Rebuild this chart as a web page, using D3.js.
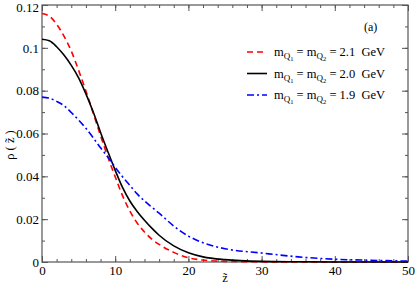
<!DOCTYPE html>
<html>
<head>
<meta charset="utf-8">
<script src="https://cdn.jsdelivr.net/npm/d3@7"></script>
<style>
  body { margin: 0; background: #fff; }
  svg { display: block; }
  svg text { font-family: "Liberation Serif", "Times New Roman", "DejaVu Serif", serif; }
</style>
</head>
<body>
<svg id="chart" width="415" height="285"></svg>
<script>
const zVals = [0, 1, 2, 3, 4, 5, 6, 7, 8, 9, 10, 11, 12, 13, 14, 15, 16, 18, 20, 22, 25, 30, 35, 40, 45, 50];
const rho21 = [0.116, 0.1148, 0.111, 0.1055, 0.0985, 0.0895, 0.0798, 0.0695, 0.059, 0.049, 0.0398, 0.031, 0.0238, 0.0182, 0.014, 0.0107, 0.0082, 0.0045, 0.002, 0.0009, 0.0003, 0.0001, 0, 0, 0, 0];
const rho20 = [0.104, 0.1033, 0.1005, 0.0966, 0.0918, 0.086, 0.0785, 0.070, 0.0605, 0.0515, 0.0428, 0.0348, 0.0285, 0.0236, 0.0195, 0.0158, 0.0125, 0.0075, 0.0043, 0.0024, 0.0011, 0.0003, 0.0001, 0, 0, 0];
const rho19 = [0.077, 0.0765, 0.075, 0.073, 0.0698, 0.0663, 0.0624, 0.058, 0.0533, 0.049, 0.0442, 0.0398, 0.0358, 0.0318, 0.0285, 0.0256, 0.0228, 0.0168, 0.0121, 0.009, 0.0062, 0.0042, 0.0024, 0.0013, 0.0008, 0.0004];
const legendMass = ["2.1", "2.0", "1.9"];
const xTicks = [0, 10, 20, 30, 40, 50];
const yTicks = [0, 0.02, 0.04, 0.06, 0.08, 0.1, 0.12];

const series = [
  { vals: rho21, color: "#ff0000", dash: "6,4" },
  { vals: rho20, color: "#000000", dash: null },
  { vals: rho19, color: "#0000ff", dash: "7,3,2,3" }
];

const svg = d3.select("#chart");
const margin = { top: 5, right: 7, bottom: 23, left: 42 };
const width = 415 - margin.left - margin.right;
const height = 285 - margin.top - margin.bottom;

const x = d3.scaleLinear().domain([0, 50]).range([0, width]);
const y = d3.scaleLinear().domain([0, 0.12]).range([height, 0]);

const g = svg.append("g").attr("transform", `translate(${margin.left},${margin.top})`);

const axisColor = "#555";

function styleAxis(sel) {
  sel.attr("font-family", null).attr("font-size", 13);
  sel.select(".domain").remove();
  sel.selectAll("line").attr("stroke", axisColor);
  sel.selectAll("text").attr("fill", "#000");
}

// minor ticks
const xMinor = d3.range(0, 51, 2);
const yMinor = d3.range(0, 0.1201, 0.01);
g.append("g").attr("transform", `translate(0,${height})`)
  .call(d3.axisBottom(x).tickValues(xMinor).tickSize(-3).tickFormat(""))
  .call(styleAxis);
g.append("g")
  .call(d3.axisTop(x).tickValues(xMinor).tickSize(-3).tickFormat(""))
  .call(styleAxis);
g.append("g")
  .call(d3.axisLeft(y).tickValues(yMinor).tickSize(-3).tickFormat(""))
  .call(styleAxis);
g.append("g").attr("transform", `translate(${width},0)`)
  .call(d3.axisRight(y).tickValues(yMinor).tickSize(-3).tickFormat(""))
  .call(styleAxis);

// major ticks
g.append("g").attr("transform", `translate(0,${height})`)
  .call(d3.axisBottom(x).tickValues(xTicks).tickSize(-6).tickPadding(4).tickFormat(d3.format("d")))
  .call(styleAxis);
g.append("g")
  .call(d3.axisTop(x).tickValues(xTicks).tickSize(-6).tickFormat(""))
  .call(styleAxis);
g.append("g")
  .call(d3.axisLeft(y).tickValues(yTicks).tickSize(-6).tickPadding(3)
    .tickFormat(d => d === 0 ? "0" : String(+d.toFixed(2))))
  .call(styleAxis)
  .selectAll("text").attr("dy", d => d === 0.12 ? "0.5em" : "0.32em");
g.append("g").attr("transform", `translate(${width},0)`)
  .call(d3.axisRight(y).tickValues(yTicks).tickSize(-6).tickFormat(""))
  .call(styleAxis);

// frame
g.append("rect").attr("width", width).attr("height", height)
  .attr("fill", "none").attr("stroke", axisColor).attr("stroke-width", 1.2);

// curves
const line = d3.line()
  .x((d, i) => x(zVals[i]))
  .y(d => y(d))
  .curve(d3.curveMonotoneX);

series.forEach(s => {
  g.append("path")
    .attr("d", line(s.vals))
    .attr("fill", "none")
    .attr("stroke", s.color)
    .attr("stroke-width", 1.6)
    .attr("stroke-dasharray", s.dash);
});

// panel label
svg.append("text").attr("x", 364).attr("y", 31)
  .attr("font-size", 12).text("(a)");

// legend
const leg = svg.append("g").attr("transform", "translate(247,52)");
series.forEach((s, i) => {
  const row = leg.append("g").attr("transform", `translate(0,${i * 21.5})`);
  row.append("line").attr("x1", 0).attr("x2", 20).attr("y1", 0).attr("y2", 0)
    .attr("stroke", s.color).attr("stroke-width", 1.6)
    .attr("stroke-dasharray", s.dash);
  const t = row.append("text").attr("x", 27).attr("y", 4).attr("font-size", 12.5);
  t.append("tspan").text("m");
  t.append("tspan").attr("dy", 3).attr("font-size", 9).text("Q");
  t.append("tspan").attr("dy", 2).attr("font-size", 6.5).text("1");
  t.append("tspan").attr("dy", -5).text(" = m");
  t.append("tspan").attr("dy", 3).attr("font-size", 9).text("Q");
  t.append("tspan").attr("dy", 2).attr("font-size", 6.5).text("2");
  t.append("tspan").attr("dy", -5).text(" = " + legendMass[i] + "\u00a0\u00a0GeV");
});

// axis titles
svg.append("text").attr("x", margin.left + x(25)).attr("y", 282)
  .attr("text-anchor", "middle").attr("font-size", 12.5).text("z\u0303");
svg.append("text")
  .attr("transform", `translate(14,145) rotate(-90)`)
  .attr("text-anchor", "middle").attr("font-size", 12.5).text("\u03c1 ( z\u0303 )");
</script>
</body>
</html>
